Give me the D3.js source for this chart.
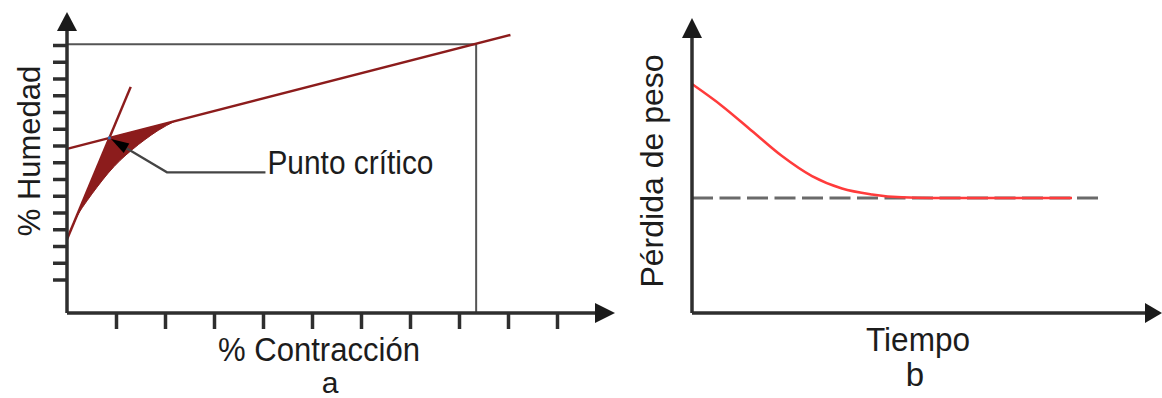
<!DOCTYPE html>
<html>
<head>
<meta charset="utf-8">
<script src="https://cdn.jsdelivr.net/npm/d3@7"></script>
<style>
  body { margin: 0; background: #fff; }
  svg { display: block; }
  text { font-family: "Liberation Sans", Arial, sans-serif; fill: #1c1c1c; }
</style>
</head>
<body>
<svg id="chart" width="1162" height="398"></svg>
<script>
// ---- Panel a: moisture content vs. shrinkage ----
const contractionTicks = [1, 2, 3, 4, 5, 6, 7, 8, 9, 10];
const humidityTicks = [2, 3, 4, 5, 6, 7, 8, 9, 10, 11, 12, 13, 14, 15, 16];
const longLine = [[0, 9.8], [9.05, 16.6]];        // slow (linear) shrinkage stage
const steepLine = [[0, 4.4], [1.3, 13.5]];        // fast shrinkage stage
const curveX = [0, 0.22, 0.41, 0.61, 0.84, 1.08, 1.33, 1.59, 1.86, 2.2];
const curveY = [4.4, 5.85, 6.7, 7.5, 8.35, 9.1, 9.75, 10.35, 10.9, 11.45];
const criticalPoint = [0.864, 10.45];
const finalPoint = [8.35, 16.05];
const labelElbow = [2.04, 8.4];
const labelAnchor = [4.05, 8.4];
const criticalLabel = "Punto crítico";

// ---- Panel b: weight loss vs. time ----
const timeValues = [0, 0.75, 1.5, 2.25, 3, 3.75, 4.5, 5.25, 6, 9.5];
const weightLoss = [7.76, 7.02, 6.17, 5.32, 4.64, 4.22, 4.02, 3.92, 3.9, 3.9];
const equilibrium = 3.9;
const equilibriumEnd = 10.15;

const svg = d3.select("#chart");
const axisColor = "#2e2e2e";
const darkRed = "#8c1c1c";

function arrowUp(g, x, tipY, len, half) {
  g.append("path")
    .attr("d", `M${x},${tipY} L${x - half},${tipY + len} L${x + half},${tipY + len} Z`)
    .attr("fill", "#1a1a1a");
}
function arrowRight(g, tipX, y, len, half) {
  g.append("path")
    .attr("d", `M${tipX},${y} L${tipX - len},${y - half} L${tipX - len},${y + half} Z`)
    .attr("fill", "#1a1a1a");
}

// ================= Panel a =================
const xA = d3.scaleLinear().domain([0, 11]).range([67, 606]);
const yA = d3.scaleLinear().domain([0, 16]).range([313, 45]);
const gA = svg.append("g");

// reference box to the final point
gA.append("path")
  .attr("d", `M${xA(0)},${yA(finalPoint[1])} H${xA(finalPoint[0])} V${yA(0)}`)
  .attr("fill", "none").attr("stroke", "#555").attr("stroke-width", 2);

// ticks
const yAxisA = d3.axisLeft(yA).tickValues(humidityTicks).tickSize(14).tickFormat("");
const gyA = gA.append("g").attr("transform", `translate(${xA(0)},0)`).call(yAxisA);
gyA.select(".domain").remove();
gyA.selectAll(".tick line").attr("stroke", axisColor).attr("stroke-width", 3.5);

const xAxisA = d3.axisBottom(xA).tickValues(contractionTicks).tickSize(16).tickFormat("");
const gxA = gA.append("g").attr("transform", `translate(0,${yA(0)})`).call(xAxisA);
gxA.select(".domain").remove();
gxA.selectAll(".tick line").attr("stroke", axisColor).attr("stroke-width", 3.5);

// filled region between the real curve and the two straight stages
const lineA = d3.line().x(d => xA(d[0])).y(d => yA(d[1])).curve(d3.curveMonotoneX);
const curvePts = curveX.map((x, i) => [x, curveY[i]]);
const curvePath = lineA(curvePts);
gA.append("path")
  .attr("d", curvePath + `L${xA(criticalPoint[0])},${yA(criticalPoint[1])}L${xA(curvePts[0][0])},${yA(curvePts[0][1])}Z`)
  .attr("fill", darkRed).attr("stroke", darkRed).attr("stroke-width", 1);

const straight = d3.line().x(d => xA(d[0])).y(d => yA(d[1]));
gA.append("path").attr("d", straight(longLine))
  .attr("fill", "none").attr("stroke", darkRed).attr("stroke-width", 2.5);
gA.append("path").attr("d", straight(steepLine))
  .attr("fill", "none").attr("stroke", darkRed).attr("stroke-width", 2.5);

// axes lines with arrowheads
gA.append("line").attr("x1", xA(0)).attr("x2", xA(0)).attr("y1", yA(0)).attr("y2", 28)
  .attr("stroke", axisColor).attr("stroke-width", 3.5);
gA.append("line").attr("x1", xA(0)).attr("x2", 598).attr("y1", yA(0)).attr("y2", yA(0))
  .attr("stroke", axisColor).attr("stroke-width", 3.5);
arrowUp(gA, xA(0), 12, 19, 10);
arrowRight(gA, 615, yA(0), 20, 10);

// critical point annotation
const cx = xA(criticalPoint[0]), cy = yA(criticalPoint[1]);
const ex = xA(labelElbow[0]), ey = yA(labelElbow[1]);
const lx = xA(labelAnchor[0]);
const dx = ex - cx, dy = ey - cy, dl = Math.hypot(dx, dy);
const ux = dx / dl, uy = dy / dl;
const tipX = cx + ux * 2, tipY = cy + uy * 2;
const bx = tipX + ux * 18, by = tipY + uy * 18;
gA.append("path")
  .attr("d", `M${bx},${by} L${ex},${ey} H${lx}`)
  .attr("fill", "none").attr("stroke", "#444").attr("stroke-width", 2.2);
gA.append("path")
  .attr("d", `M${tipX},${tipY} L${bx - uy * 5.5},${by + ux * 5.5} L${bx + uy * 5.5},${by - ux * 5.5} Z`)
  .attr("fill", "#000");
gA.append("circle").attr("cx", cx).attr("cy", cy).attr("r", 1.6).attr("fill", "#2f6fb5");

gA.append("text").attr("x", lx + 2).attr("y", 174)
  .attr("font-size", 33).attr("textLength", 166).attr("lengthAdjust", "spacingAndGlyphs")
  .text(criticalLabel);

gA.append("text").attr("transform", "translate(40,151) rotate(-90)")
  .attr("text-anchor", "middle").attr("font-size", 31).text("% Humedad");
gA.append("text").attr("x", 218).attr("y", 361)
  .attr("font-size", 33).attr("textLength", 202).attr("lengthAdjust", "spacingAndGlyphs")
  .text("% Contracción");
gA.append("text").attr("x", 330).attr("y", 393).attr("text-anchor", "middle")
  .attr("font-size", 30).text("a");

// ================= Panel b =================
const xB = d3.scaleLinear().domain([0, 10]).range([692, 1092]);
const yB = d3.scaleLinear().domain([0, 10]).range([313, 18]);
const gB = svg.append("g");

gB.append("line")
  .attr("x1", xB(0)).attr("x2", xB(equilibriumEnd))
  .attr("y1", yB(equilibrium)).attr("y2", yB(equilibrium))
  .attr("stroke", "#6a6a6a").attr("stroke-width", 3).attr("stroke-dasharray", "21,6.5");

const lineB = d3.line().x(d => xB(d[0])).y(d => yB(d[1])).curve(d3.curveMonotoneX);
gB.append("path")
  .attr("d", lineB(timeValues.map((t, i) => [t, weightLoss[i]])))
  .attr("fill", "none").attr("stroke", "#ff3b3b").attr("stroke-width", 2.5);

gB.append("line").attr("x1", xB(0)).attr("x2", xB(0)).attr("y1", yB(0)).attr("y2", 34)
  .attr("stroke", axisColor).attr("stroke-width", 3.5);
gB.append("line").attr("x1", xB(0)).attr("x2", 1150).attr("y1", yB(0)).attr("y2", yB(0))
  .attr("stroke", axisColor).attr("stroke-width", 3.5);
arrowUp(gB, xB(0), 18, 20, 10);
arrowRight(gB, 1162, yB(0), 17, 10);

gB.append("text").attr("transform", "translate(663,171) rotate(-90)")
  .attr("text-anchor", "middle").attr("font-size", 32).text("Pérdida de peso");
gB.append("text").attr("x", 866).attr("y", 351)
  .attr("font-size", 33).attr("textLength", 104).attr("lengthAdjust", "spacingAndGlyphs")
  .text("Tiempo");
gB.append("text").attr("x", 915).attr("y", 386).attr("text-anchor", "middle")
  .attr("font-size", 33).text("b");
</script>
</body>
</html>
